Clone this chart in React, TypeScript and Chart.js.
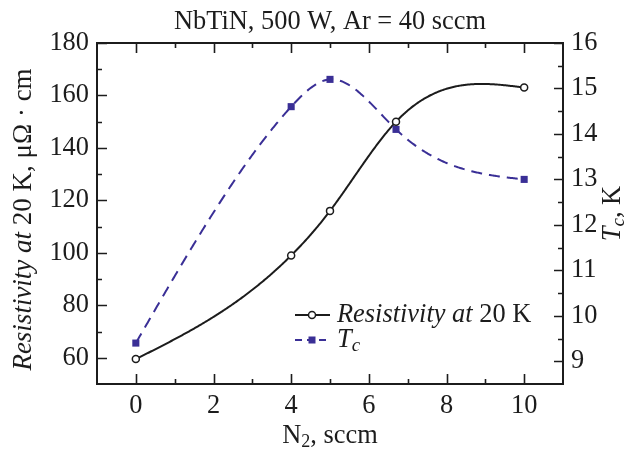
import React, { useEffect, useRef } from "react";
import { Chart, registerables } from "chart.js";

Chart.register(...registerables);

// ---- data ----
const n2Flow = [0, 4, 5, 6.7, 10];
const resistivity = [59.5, 99, 116, 150, 163];
const tcValues = [9.4, 14.6, 15.2, 14.1, 13.0];

// ---- ticks ----
const xTicks = [0, 2, 4, 6, 8, 10];
const xMinorTicks = [1, 3, 5, 7, 9];
const leftTicks = [60, 80, 100, 120, 140, 160, 180];
const leftMinorTicks = [70, 90, 110, 130, 150, 170];
const rightTicks = [9, 10, 11, 12, 13, 14, 15, 16];
const rightMinorTicks = [9.5, 10.5, 11.5, 12.5, 13.5, 14.5, 15.5];

const titleText = "NbTiN, 500 W, Ar = 40 sccm";

const FAMILY = "'Liberation Serif', 'Times New Roman', serif";
const INK = "#1c1c1c";
const TC_COLOR = "#3a2f96";
const FS = 26.4;

type Run = { text: string; italic?: boolean; size?: number; dy?: number };

function fontOf(r: Run, base: number) {
  return `${r.italic ? "italic " : ""}${r.size || base}px ${FAMILY}`;
}

function drawRuns(
  ctx: CanvasRenderingContext2D,
  runs: Run[],
  x: number,
  y: number,
  align: "left" | "center",
  base: number = FS
) {
  ctx.save();
  ctx.textBaseline = "middle";
  ctx.textAlign = "left";
  ctx.fillStyle = INK;
  let total = 0;
  for (const r of runs) {
    ctx.font = fontOf(r, base);
    total += ctx.measureText(r.text).width;
  }
  let cx = align === "center" ? x - total / 2 : x;
  for (const r of runs) {
    ctx.font = fontOf(r, base);
    ctx.fillText(r.text, cx, y + (r.dy || 0));
    cx += ctx.measureText(r.text).width;
  }
  ctx.restore();
}

function naturalSpline(xs: number[], ys: number[]) {
  const n = xs.length;
  const h: number[] = [];
  for (let i = 0; i < n - 1; i++) h.push(xs[i + 1] - xs[i]);
  const M = new Array(n).fill(0);
  const m = n - 2;
  if (m > 0) {
    const a: number[] = [], b: number[] = [], c: number[] = [], d: number[] = [];
    for (let i = 1; i <= m; i++) {
      a.push(h[i - 1]);
      b.push(2 * (h[i - 1] + h[i]));
      c.push(h[i]);
      d.push(6 * ((ys[i + 1] - ys[i]) / h[i] - (ys[i] - ys[i - 1]) / h[i - 1]));
    }
    for (let i = 1; i < m; i++) {
      const w = a[i] / b[i - 1];
      b[i] -= w * c[i - 1];
      d[i] -= w * d[i - 1];
    }
    const sol = new Array(m).fill(0);
    sol[m - 1] = d[m - 1] / b[m - 1];
    for (let i = m - 2; i >= 0; i--) sol[i] = (d[i] - c[i] * sol[i + 1]) / b[i];
    for (let i = 0; i < m; i++) M[i + 1] = sol[i];
  }
  return (x: number) => {
    let i = 0;
    while (i < n - 2 && x > xs[i + 1]) i++;
    const hi = h[i];
    const A = xs[i + 1] - x;
    const B = x - xs[i];
    return (
      (M[i] * A * A * A) / (6 * hi) +
      (M[i + 1] * B * B * B) / (6 * hi) +
      (ys[i] / hi - (M[i] * hi) / 6) * A +
      (ys[i + 1] / hi - (M[i + 1] * hi) / 6) * B
    );
  };
}

function drawCurve(chart: any, yId: string, xs: number[], ys: number[], color: string, width: number, dash: number[]) {
  const ctx = chart.ctx as CanvasRenderingContext2D;
  const xs_ = chart.scales.x;
  const ys_ = chart.scales[yId];
  const f = naturalSpline(xs, ys);
  const steps = 400;
  ctx.save();
  ctx.beginPath();
  for (let k = 0; k <= steps; k++) {
    const xv = xs[0] + ((xs[xs.length - 1] - xs[0]) * k) / steps;
    const px = xs_.getPixelForValue(xv);
    const py = ys_.getPixelForValue(f(xv));
    if (k === 0) ctx.moveTo(px, py);
    else ctx.lineTo(px, py);
  }
  ctx.strokeStyle = color;
  ctx.lineWidth = width;
  ctx.setLineDash(dash);
  ctx.lineJoin = "round";
  ctx.stroke();
  ctx.restore();
}

const decorPlugin = {
  id: "decor",
  beforeDatasetsDraw(chart: any) {
    drawCurve(chart, "y", n2Flow, resistivity, INK, 2, []);
    drawCurve(chart, "y1", n2Flow, tcValues, TC_COLOR, 2, [11, 7]);
  },
  afterDraw(chart: any) {
    const ctx = chart.ctx as CanvasRenderingContext2D;
    const { left, right, top, bottom } = chart.chartArea;
    const sx = chart.scales.x;
    const sy = chart.scales.y;
    const sy1 = chart.scales.y1;
    const MAJ = 10;
    const MIN = 5;
    ctx.save();
    ctx.strokeStyle = INK;
    ctx.lineWidth = 2;
    ctx.strokeRect(left, top, right - left, bottom - top);
    ctx.lineWidth = 1.6;
    ctx.beginPath();
    const vt = (v: number, len: number) => {
      const px = Math.round(sx.getPixelForValue(v)) + 0.5;
      ctx.moveTo(px, bottom);
      ctx.lineTo(px, bottom - len);
      ctx.moveTo(px, top);
      ctx.lineTo(px, top + len);
    };
    xTicks.forEach((v) => vt(v, MAJ));
    xMinorTicks.forEach((v) => vt(v, MIN));
    const lt = (v: number, len: number) => {
      const py = Math.round(sy.getPixelForValue(v)) + 0.5;
      ctx.moveTo(left, py);
      ctx.lineTo(left + len, py);
    };
    leftTicks.forEach((v) => lt(v, MAJ));
    leftMinorTicks.forEach((v) => lt(v, MIN));
    const rt = (v: number, len: number) => {
      const py = Math.round(sy1.getPixelForValue(v)) + 0.5;
      ctx.moveTo(right, py);
      ctx.lineTo(right - len, py);
    };
    rightTicks.forEach((v) => rt(v, MAJ - 1));
    rightMinorTicks.forEach((v) => rt(v, MIN));
    ctx.stroke();
    ctx.restore();

    const cxArea = (left + right) / 2;
    const cyArea = (top + bottom) / 2;

    // title
    drawRuns(ctx, [{ text: titleText }], cxArea, top - 21, "center");

    // x title
    drawRuns(
      ctx,
      [{ text: "N" }, { text: "2", size: 18, dy: 6 }, { text: ", sccm" }],
      cxArea,
      bottom + 52,
      "center"
    );

    // left y title
    ctx.save();
    ctx.translate(left - 73, cyArea + 6);
    ctx.rotate(-Math.PI / 2);
    drawRuns(
      ctx,
      [{ text: "Resistivity at", italic: true }, { text: " 20 K, \u03bc\u03a9 \u00b7 cm" }],
      0,
      0,
      "center",
      27
    );
    ctx.restore();

    // right y title
    ctx.save();
    ctx.translate(right + 50, cyArea);
    ctx.rotate(-Math.PI / 2);
    drawRuns(ctx, [{ text: "T", italic: true }, { text: "c", italic: true, size: 19, dy: 6 }, { text: ", K" }], 0, 0, "center");
    ctx.restore();

    // legend
    const lx0 = left + 198;
    const lx1 = left + 233;
    const mx = left + 215;
    const tx = left + 240;
    const r1 = top + 272;
    const r2 = top + 297;
    ctx.save();
    ctx.lineWidth = 2;
    ctx.strokeStyle = INK;
    ctx.beginPath();
    ctx.moveTo(lx0, r1);
    ctx.lineTo(lx1, r1);
    ctx.stroke();
    ctx.beginPath();
    ctx.arc(mx, r1, 3.5, 0, Math.PI * 2);
    ctx.fillStyle = "#ffffff";
    ctx.fill();
    ctx.lineWidth = 1.5;
    ctx.stroke();
    ctx.strokeStyle = TC_COLOR;
    ctx.lineWidth = 2;
    ctx.setLineDash([7, 5]);
    ctx.beginPath();
    ctx.moveTo(lx0, r2);
    ctx.lineTo(lx1 + 1, r2);
    ctx.stroke();
    ctx.setLineDash([]);
    ctx.fillStyle = TC_COLOR;
    ctx.fillRect(mx - 3.5, r2 - 3.5, 7, 7);
    ctx.restore();
    drawRuns(ctx, [{ text: "Resistivity at ", italic: true }, { text: "20 K" }], tx, r1, "left");
    drawRuns(ctx, [{ text: "T", italic: true }, { text: "c", italic: true, size: 19, dy: 6 }], tx, r2, "left");
  },
};

export default function App() {
  const ref = useRef<HTMLCanvasElement | null>(null);
  useEffect(() => {
    document.body.style.margin = "0";
    const canvas = ref.current;
    if (!canvas) return;
    const tickFont = { family: FAMILY, size: FS };
    const chart = new Chart(canvas, {
      type: "line",
      data: {
        datasets: [
          {
            label: "Resistivity at 20 K",
            data: n2Flow.map((x, i) => ({ x, y: resistivity[i] })),
            yAxisID: "y",
            showLine: false,
            pointStyle: "circle",
            pointRadius: 3.5,
            pointBorderWidth: 1.5,
            pointBorderColor: INK,
            pointBackgroundColor: "#ffffff",
            borderColor: INK,
          },
          {
            label: "Tc",
            data: n2Flow.map((x, i) => ({ x, y: tcValues[i] })),
            yAxisID: "y1",
            showLine: false,
            pointStyle: "rect",
            pointRadius: 5,
            pointBorderWidth: 0,
            pointBorderColor: TC_COLOR,
            pointBackgroundColor: TC_COLOR,
            borderColor: TC_COLOR,
          },
        ],
      },
      options: {
        animation: false,
        responsive: false,
        maintainAspectRatio: false,
        layout: { padding: { top: 43, left: 0, right: 0, bottom: 0 } },
        plugins: { legend: { display: false }, title: { display: false }, tooltip: { enabled: false } },
        scales: {
          x: {
            type: "linear",
            min: -1,
            max: 11,
            grid: { display: false, drawTicks: false },
            border: { display: false },
            ticks: { font: tickFont, color: INK, padding: 6, maxRotation: 0 },
            afterBuildTicks: (s: any) => {
              s.ticks = xTicks.map((v) => ({ value: v }));
            },
            afterFit: (s: any) => {
              s.height = 66;
            },
          },
          y: {
            type: "linear",
            position: "left",
            min: 50,
            max: 180,
            grid: { display: false, drawTicks: false },
            border: { display: false },
            ticks: { font: tickFont, color: INK, padding: 8 },
            afterBuildTicks: (s: any) => {
              s.ticks = leftTicks.map((v) => ({ value: v }));
            },
            afterFit: (s: any) => {
              s.width = 97;
            },
          },
          y1: {
            type: "linear",
            position: "right",
            min: 8.5,
            max: 16,
            grid: { display: false, drawTicks: false },
            border: { display: false },
            ticks: { font: tickFont, color: INK, padding: 8 },
            afterBuildTicks: (s: any) => {
              s.ticks = rightTicks.map((v) => ({ value: v }));
            },
            afterFit: (s: any) => {
              s.width = 73;
            },
          },
        },
      },
      plugins: [decorPlugin],
    } as any);
    return () => chart.destroy();
  }, []);
  return (
    <div style={{ width: 636, height: 450, background: "#fff" }}>
      <canvas ref={ref} width={636} height={450} style={{ display: "block", width: 636, height: 450 }} />
    </div>
  );
}
